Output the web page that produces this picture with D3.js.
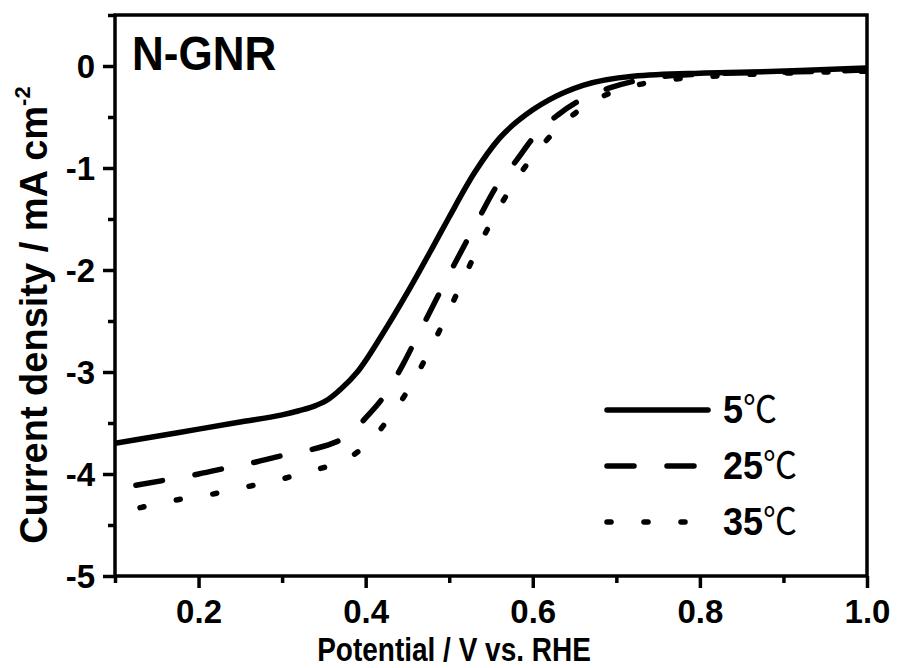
<!DOCTYPE html>
<html>
<head>
<meta charset="utf-8">
<script src="https://cdn.jsdelivr.net/npm/d3@7"></script>
<style>
  html, body { margin: 0; padding: 0; background: #fff; }
  svg { display: block; }
  text { font-family: "Liberation Sans", Arial, sans-serif; fill: #000; }
</style>
</head>
<body>
<svg id="chart" width="899" height="668"></svg>
<script>
// ---- Data ----
const seriesNames = ["5", "25", "35"];
const potential5 = [0.10, 0.15, 0.20, 0.25, 0.30, 0.32, 0.34, 0.355, 0.37, 0.39, 0.42, 0.45, 0.48, 0.50, 0.53, 0.56, 0.60, 0.62, 0.66, 0.72, 0.80, 0.86, 0.92, 1.00];
const current5   = [-3.70, -3.63, -3.56, -3.49, -3.42, -3.38, -3.33, -3.27, -3.17, -3.00, -2.63, -2.22, -1.78, -1.48, -1.05, -0.71, -0.43, -0.33, -0.19, -0.10, -0.07, -0.06, -0.045, -0.02];
const potential25 = [0.125, 0.16, 0.20, 0.24, 0.27, 0.30, 0.33, 0.36, 0.38, 0.40, 0.42, 0.445, 0.46, 0.48, 0.50, 0.52, 0.535, 0.555, 0.58, 0.605, 0.63, 0.665, 0.69, 0.74, 0.80, 0.90, 1.00];
const current25   = [-4.11, -4.06, -4.00, -3.93, -3.88, -3.82, -3.77, -3.70, -3.62, -3.45, -3.26, -2.92, -2.68, -2.36, -2.04, -1.73, -1.50, -1.20, -0.93, -0.66, -0.48, -0.30, -0.22, -0.12, -0.08, -0.06, -0.04];
const potential35 = [0.13, 0.17, 0.215, 0.255, 0.30, 0.32, 0.36, 0.38, 0.405, 0.43, 0.455, 0.477, 0.498, 0.517, 0.537, 0.559, 0.583, 0.613, 0.645, 0.683, 0.723, 0.768, 0.816, 0.90, 1.00];
const current35   = [-4.33, -4.26, -4.20, -4.13, -4.05, -4.00, -3.91, -3.84, -3.68, -3.43, -3.12, -2.78, -2.43, -2.09, -1.74, -1.40, -1.08, -0.76, -0.50, -0.30, -0.19, -0.13, -0.10, -0.07, -0.05];

const xTicks = [0.2, 0.4, 0.6, 0.8, 1.0];
const xMinorTicks = [0.1, 0.3, 0.5, 0.7, 0.9];
const yTicks = [0, -1, -2, -3, -4, -5];
const yMinorTicks = [0.5, -0.5, -1.5, -2.5, -3.5, -4.5];
const xLabel = "Potential / V vs. RHE";
const yLabel = "Current density / mA cm";
const panelLabel = "N-GNR";

// ---- Layout ----
const svg = d3.select("#chart");
const L = 115, R = 867, T = 15, B = 576;
const x = d3.scaleLinear().domain([0.1, 1.0]).range([L, R]);
const y = d3.scaleLinear().domain([-5, 0.5]).range([B, T]);

const axisW = 3.5;

// curves
const series = [
  { name: seriesNames[0], xs: potential5, ys: current5, dash: null },
  { name: seriesNames[1], xs: potential25, ys: current25, dash: "27 33" },
  { name: seriesNames[2], xs: potential35, ys: current35, dash: "4 33" }
];
const line = d3.line().x(d => x(d[0])).y(d => y(d[1])).curve(d3.curveMonotoneX);

svg.append("clipPath").attr("id", "clip")
  .append("rect").attr("x", L).attr("y", T).attr("width", R - L).attr("height", B - T);

const plot = svg.append("g").attr("clip-path", "url(#clip)");
series.forEach(s => {
  const pts = s.xs.map((v, i) => [v, s.ys[i]]);
  plot.append("path")
    .attr("d", line(pts))
    .attr("fill", "none")
    .attr("stroke", "#000")
    .attr("stroke-width", 5.5)
    .attr("stroke-linecap", "round")
    .attr("stroke-linejoin", "round")
    .attr("stroke-dasharray", s.dash);
});

// axes
const xAxis = svg.append("g").attr("transform", `translate(0,${B})`)
  .call(d3.axisBottom(x).tickValues(xTicks).tickFormat(d3.format(".1f")).tickSize(12).tickPadding(12));
const xMinor = svg.append("g").attr("transform", `translate(0,${B})`)
  .call(d3.axisBottom(x).tickValues(xMinorTicks).tickFormat("").tickSize(7));
const yAxis = svg.append("g").attr("transform", `translate(${L},0)`)
  .call(d3.axisLeft(y).tickValues(yTicks).tickFormat(d => d === 0 ? "0" : "-" + Math.abs(d)).tickSize(12).tickPadding(8));
const yMinor = svg.append("g").attr("transform", `translate(${L},0)`)
  .call(d3.axisLeft(y).tickValues(yMinorTicks).tickFormat("").tickSize(7));

[xAxis, xMinor, yAxis, yMinor].forEach(g => {
  g.select(".domain").remove();
  g.selectAll(".tick line").attr("stroke", "#000").attr("stroke-width", axisW);
});
[xAxis, yAxis].forEach(g => {
  g.selectAll(".tick text")
    .attr("font-family", "Liberation Sans, Arial, sans-serif")
    .attr("font-weight", "bold")
    .attr("font-size", 33)
    .attr("fill", "#000");
});
yAxis.selectAll(".tick text").attr("dy", "0.36em");

// frame
svg.append("rect")
  .attr("x", L).attr("y", T).attr("width", R - L).attr("height", B - T)
  .attr("fill", "none").attr("stroke", "#000").attr("stroke-width", axisW);

// axis titles
svg.append("text")
  .attr("transform", `translate(454,661) scale(1,1.2)`)
  .attr("text-anchor", "middle")
  .attr("font-weight", "bold").attr("font-size", 28)
  .text(xLabel);

const yt = svg.append("text")
  .attr("transform", `translate(47,315) rotate(-90)`)
  .attr("text-anchor", "middle")
  .attr("font-weight", "bold").attr("font-size", 38);
yt.append("tspan").text(yLabel);
yt.append("tspan").attr("font-size", 22).attr("dy", -17).text("-2");

// panel label
svg.append("text")
  .attr("transform", "translate(132,70) scale(1,1.08)")
  .attr("font-weight", "bold").attr("font-size", 44)
  .text(panelLabel);

// legend
const legX1 = 607, legX2 = 708, legY0 = 410, legDy = 56;
series.forEach((s, i) => {
  const yy = legY0 + i * legDy;
  svg.append("line")
    .attr("x1", legX1).attr("x2", legX2).attr("y1", yy).attr("y2", yy)
    .attr("stroke", "#000").attr("stroke-width", 5.5)
    .attr("stroke-linecap", "round")
    .attr("stroke-dasharray", s.dash);
  const t = svg.append("text")
    .attr("transform", `translate(723,${yy + 13}) scale(1,1.1)`)
    .attr("font-weight", "bold").attr("font-size", 36);
  t.append("tspan").text(s.name);
  t.append("tspan")
    .attr("font-family", "Noto Sans CJK SC, sans-serif")
    .attr("font-weight", "normal").attr("font-size", 34)
    .text("℃");
});
</script>
</body>
</html>
